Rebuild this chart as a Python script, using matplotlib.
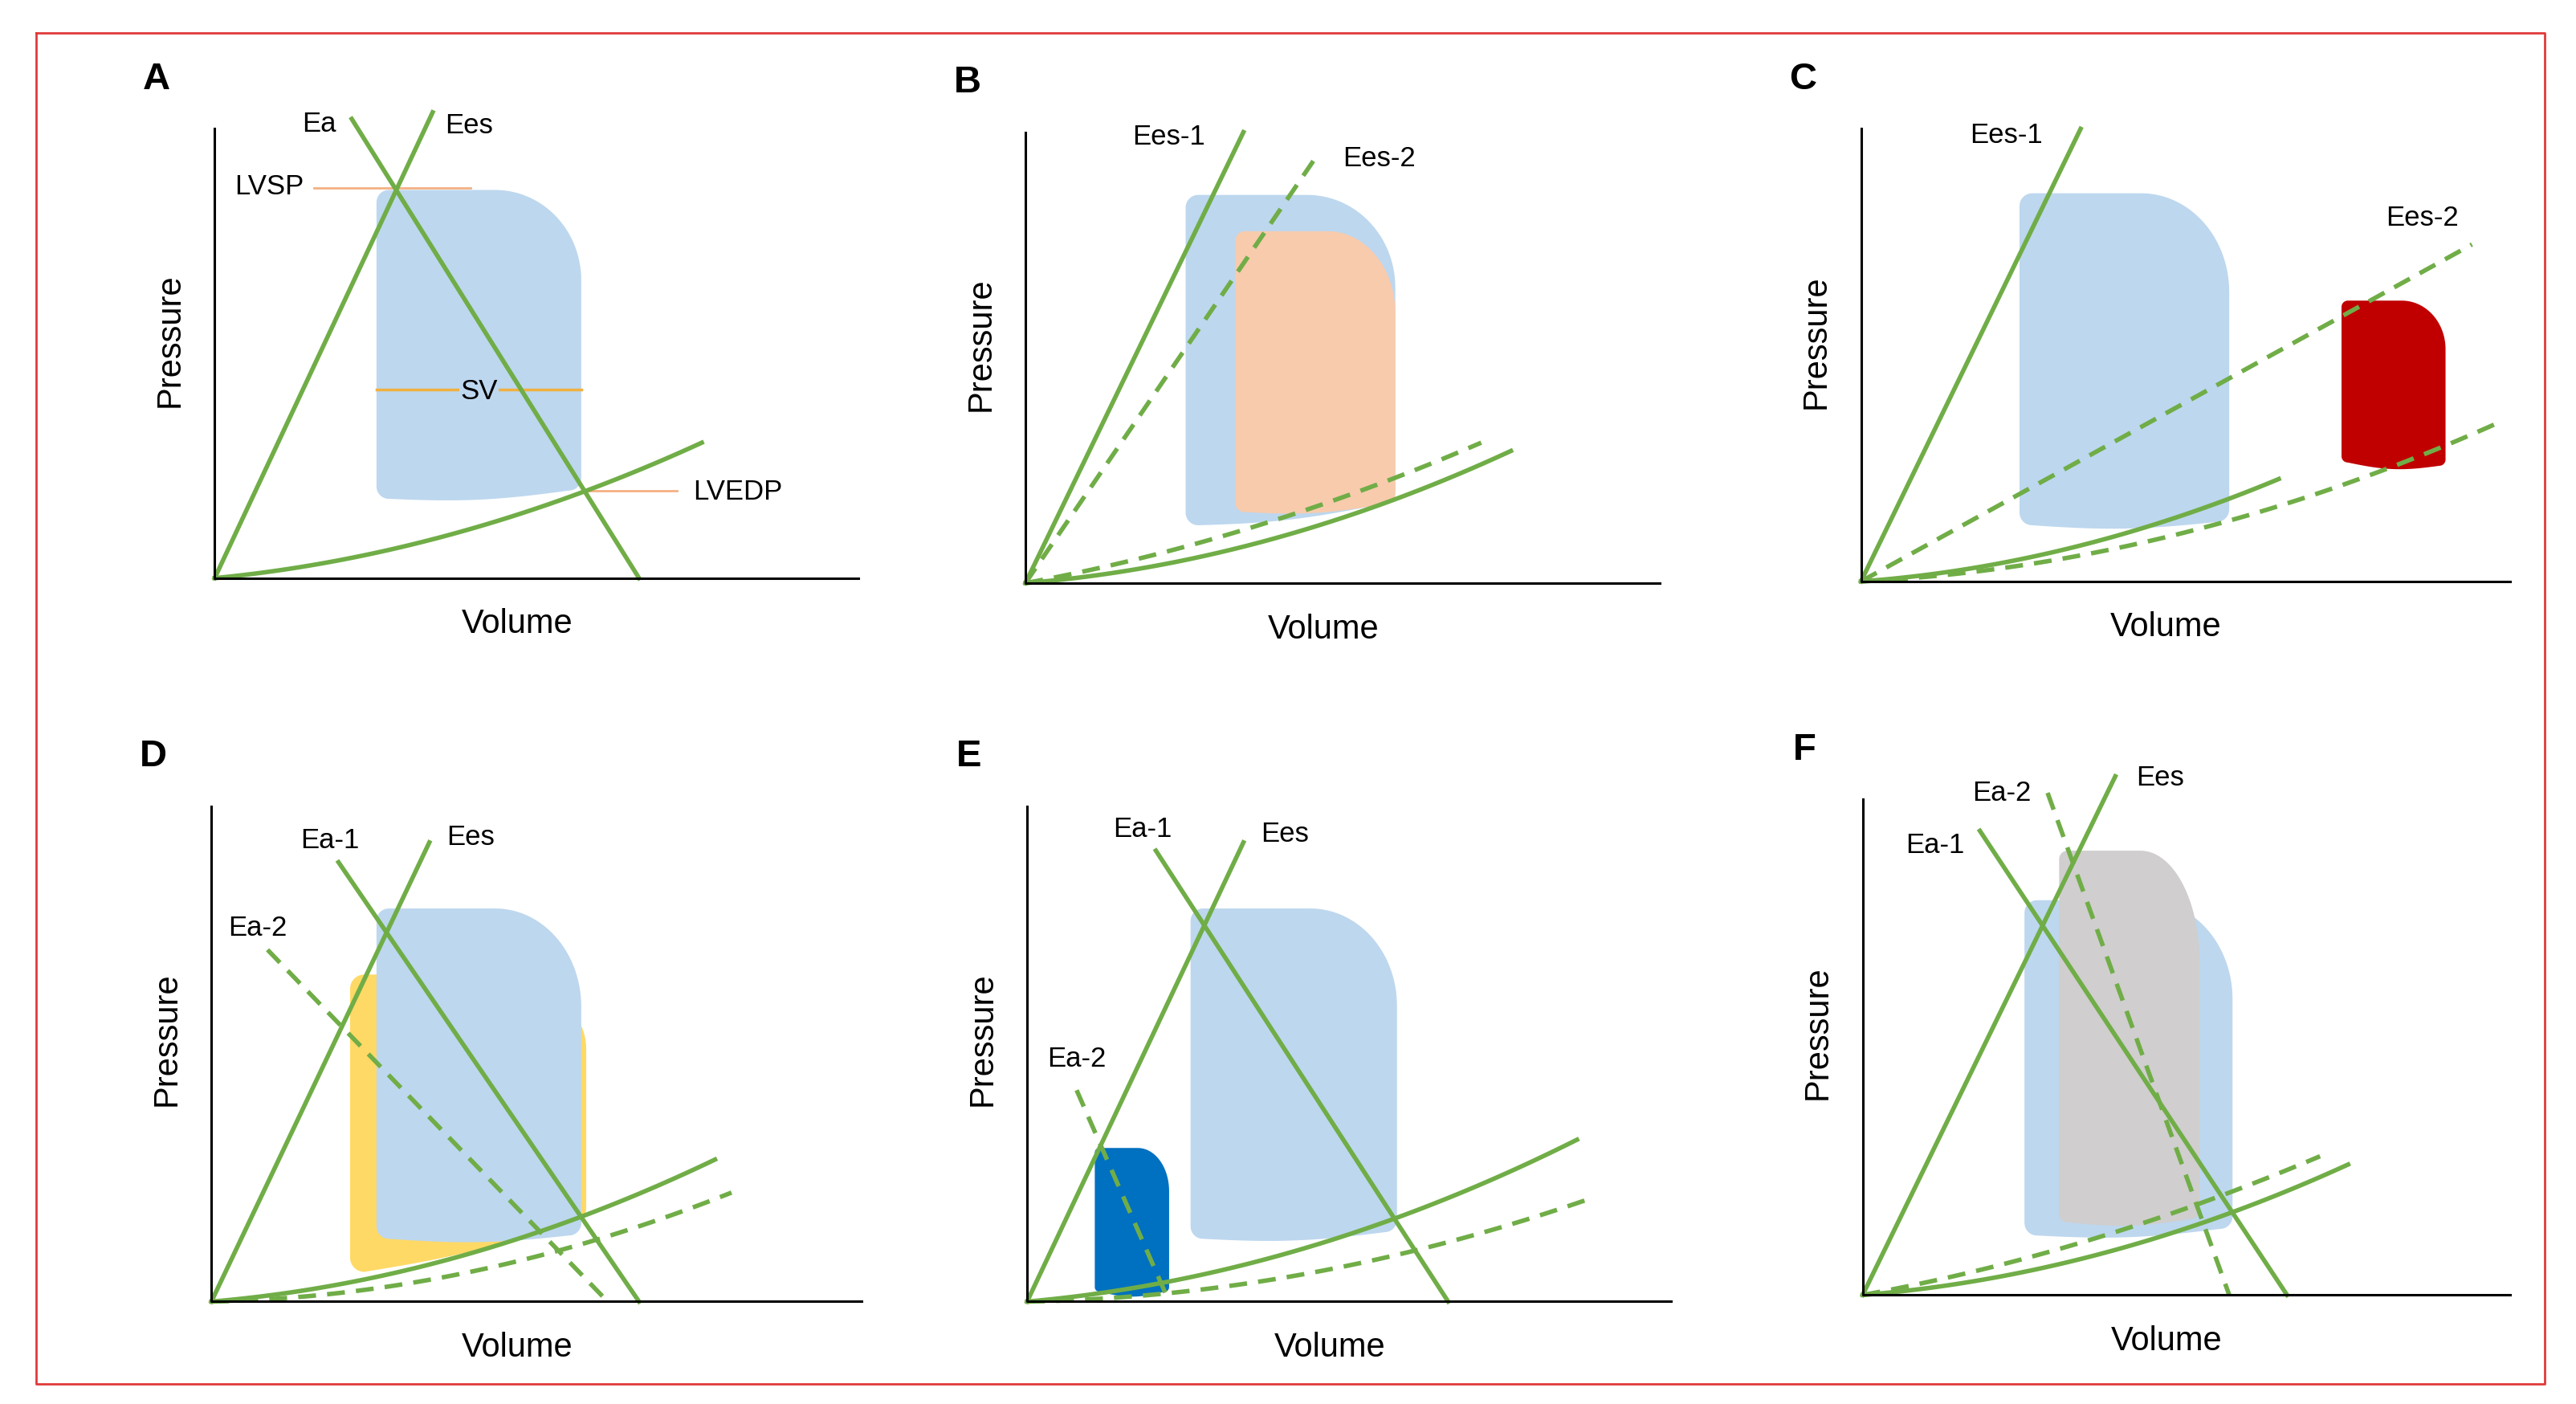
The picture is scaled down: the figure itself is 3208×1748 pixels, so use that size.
import numpy as np
import matplotlib
matplotlib.use("Agg")
import matplotlib.pyplot as plt

plt.rcParams['font.family'] = ['Liberation Sans', 'DejaVu Sans']

GREEN = '#70ad47'
BLUE = '#bdd7ee'

# panel layout: letter, origin (display px), x-axis length, y-axis height
panels = {
    'A': dict(origin=(130, 350), xlen=390, ylen=272),
    'B': dict(origin=(621, 353), xlen=384, ylen=273),
    'C': dict(origin=(1127, 352), xlen=393, ylen=274),
    'D': dict(origin=(128, 788), xlen=394, ylen=300),
    'E': dict(origin=(622, 788), xlen=390, ylen=300),
    'F': dict(origin=(1128, 784), xlen=392, ylen=300),
}

# lines: (panel, start(v,p), end(v,p), style)
lines = [
    ('A', (0, 0), (132, 282), '-'), ('A', (83, 278), (257, 0), '-'),
    ('B', (0, 0), (132, 273), '-'), ('B', (0, 0), (176, 258), '--'),
    ('C', (0, 0), (133, 274), '-'), ('C', (0, 0), (370, 204), '--'),
    ('D', (0, 0), (132, 278), '-'), ('D', (77, 266), (259, 0), '-'), ('D', (34, 213), (240, 0), '--'),
    ('E', (0, 0), (131, 278), '-'), ('E', (78, 273), (255, 0), '-'), ('E', (30, 128), (86, 0), '--'),
    ('F', (0, 0), (153, 314), '-'), ('F', (71, 281), (257, 0), '-'), ('F', (112, 304), (222, 0), '--'),
]

# EDPVR curves: (panel, end volume, end pressure, linear share, style)
curves = [
    ('A', 295, 82, 0.35, '-'),
    ('B', 294, 80, 0.3, '-'), ('B', 276, 85, 0.6, '--'),
    ('C', 253, 62, 0.3, '-'), ('C', 388, 97, 0.2, '--'),
    ('D', 305, 86, 0.3, '-'), ('D', 315, 66, 0.1, '--'),
    ('E', 333, 98, 0.3, '-'), ('E', 340, 62, 0.1, '--'),
    ('F', 294, 79, 0.3, '-'), ('F', 277, 84, 0.6, '--'),
]

# PV loops: (panel, v_left, v_right, p_bottom_left, p_bottom_right, p_top, colour)
loops = [
    ('A', 98, 222, 48, 53, 235, BLUE),
    ('B', 97, 224, 35, 48, 235, BLUE), ('B', 127, 224, 43, 48, 213, '#f8cbad'),
    ('C', 96, 223, 34, 36, 235, BLUE), ('C', 291, 354, 72, 70, 170, '#c00000'),
    ('D', 84, 227, 18, 48, 198, '#ffd966'), ('D', 100, 224, 38, 40, 238, BLUE),
    ('E', 99, 224, 38, 42, 238, BLUE), ('E', 41, 86, 6, 6, 93, '#0070c0'),
    ('F', 98, 224, 36, 40, 239, BLUE), ('F', 119, 204, 44, 46, 269, '#d0cece'),
]

# text labels: (panel, v, p, text)
labels = [
    ('A', 63, 275, 'Ea'), ('A', 154, 274, 'Ees'), ('A', 33, 237, 'LVSP'),
    ('A', 317, 52, 'LVEDP'),
    ('B', 87, 270, 'Ees-1'), ('B', 214, 257, 'Ees-2'),
    ('C', 88, 270, 'Ees-1'), ('C', 340, 220, 'Ees-2'),
    ('D', 72, 279, 'Ea-1'), ('D', 157, 281, 'Ees'), ('D', 28, 226, 'Ea-2'),
    ('E', 70, 286, 'Ea-1'), ('E', 156, 283, 'Ees'), ('E', 30, 147, 'Ea-2'),
    ('F', 44, 272, 'Ea-1'), ('F', 84, 304, 'Ea-2'), ('F', 180, 313, 'Ees'),
]

fig = plt.figure(figsize=(32.08, 17.48), dpi=100)
ax = fig.add_axes([0, 0, 1, 1])
ax.set_xlim(0, 1560)
ax.set_ylim(850, 0)
ax.axis('off')

def g(pn, v, p):
    ox, oy = panels[pn]['origin']
    return ox + np.asarray(v), oy - np.asarray(p)

def loop_shape(x0, x1, yb0, yb1, yt):
    w = x1 - x0
    h = yt - max(yb0, yb1)
    rx, ry = 0.42 * w, 0.3 * h
    rs = 0.06 * w
    pts = []
    # bottom edge (left to right) slightly convex
    t = np.linspace(0, 1, 30)
    bx = x0 + rs + t * (w - 2 * rs)
    by = yb0 + t * (yb1 - yb0) - 4 * np.sin(np.pi * t) * 0 - 3 * np.sin(np.pi * t)
    # bottom-right corner
    a = np.linspace(-np.pi / 2, 0, 10)
    brx = x1 - rs + rs * np.cos(a); bry = yb1 + rs + rs * np.sin(a)
    # top-right corner
    a2 = np.linspace(0, np.pi / 2, 30)
    trx = x1 - rx + rx * np.cos(a2); try_ = yt - ry + ry * np.sin(a2)
    # top-left corner
    a3 = np.linspace(np.pi / 2, np.pi, 10)
    tlx = x0 + rs + rs * np.cos(a3); tly = yt - rs + rs * np.sin(a3)
    # bottom-left corner
    a4 = np.linspace(np.pi, 1.5 * np.pi, 10)
    blx = x0 + rs + rs * np.cos(a4); bly = yb0 + rs + rs * np.sin(a4)
    xs = np.concatenate([bx, brx, trx, tlx, blx])
    ys = np.concatenate([by, bry, try_, tly, bly])
    return xs, ys

for pn, x0, x1, yb0, yb1, yt, c in loops:
    xs, ys = loop_shape(x0, x1, yb0, yb1, yt)
    X, Y = g(pn, xs, ys)
    ax.fill(X, Y, color=c, lw=0, zorder=1)

# panel A extra markers
X, Y = g('A', [60, 155], [236, 236]); ax.plot(X, Y, color='#f4b183', lw=2, zorder=2)
X, Y = g('A', [98, 222], [114, 114]); ax.plot(X, Y, color='#f0b040', lw=2.5, zorder=2)
ax.text(*g('A', 160, 113), 'SV', fontsize=25, ha='center', va='center', zorder=4,
        bbox=dict(facecolor=BLUE, edgecolor='none', pad=1))
X, Y = g('A', [225, 280], [53, 53]); ax.plot(X, Y, color='#f4b183', lw=2, zorder=2)

for pn, s, e, ls in lines:
    X, Y = g(pn, [s[0], e[0]], [s[1], e[1]])
    ax.plot(X, Y, color=GREEN, lw=4, ls=ls, dashes=(4, 2.5) if ls == '--' else (None, None), zorder=3)

for pn, V, P, c, ls in curves:
    v = np.linspace(0, V, 100)
    p = P * (c * v / V + (1 - c) * (v / V) ** 2)
    X, Y = g(pn, v, p)
    kw = dict(dashes=(4, 2.5)) if ls == '--' else {}
    ax.plot(X, Y, color=GREEN, lw=4, zorder=3, **kw)

for pn, info in panels.items():
    ox, oy = info['origin']
    ax.plot([ox, ox, ox + info['xlen']], [oy - info['ylen'], oy, oy], color='black', lw=2.2, zorder=3)
    ax.text(ox + info['xlen'] * 0.47, oy + 28, 'Volume', fontsize=30, ha='center', va='center')
    ax.text(ox - 27, oy - info['ylen'] * 0.53, 'Pressure', fontsize=30, ha='center', va='center', rotation=90)
    ax.text(ox - 35, oy - info['ylen'] - 30, pn, fontsize=34, fontweight='bold', ha='center', va='center')

for pn, v, p, t in labels:
    ax.text(*g(pn, v, p), t, fontsize=25, ha='center', va='center', zorder=4)

ax.plot([22, 1541, 1541, 22, 22], [20, 20, 838, 838, 20], color='#e03a3a', lw=2)

fig.savefig('out.png', dpi=100)
